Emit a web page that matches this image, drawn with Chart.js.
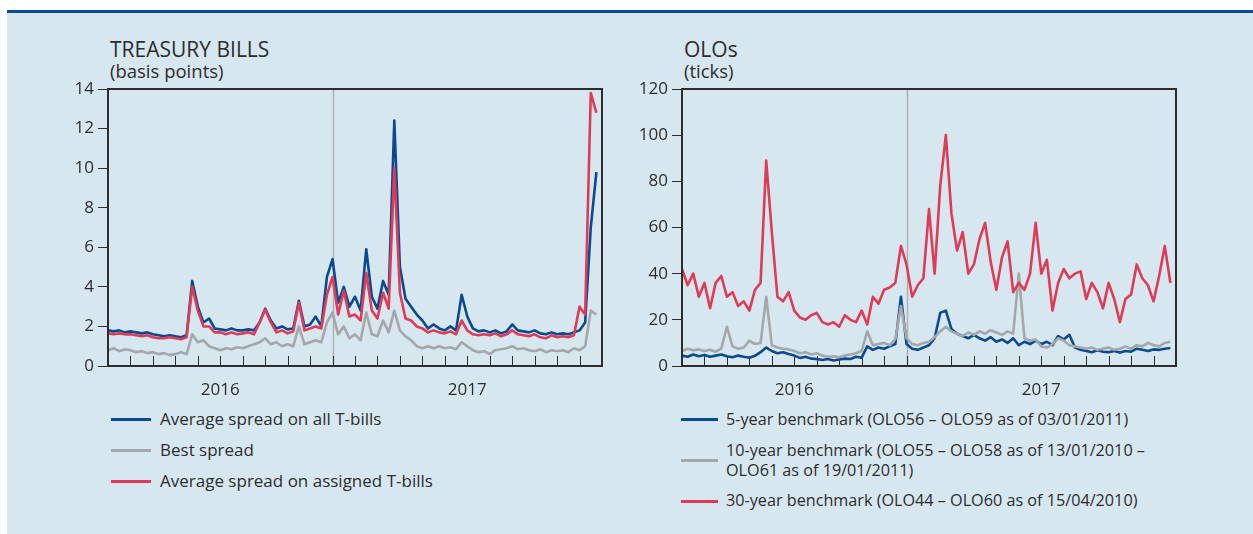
<!DOCTYPE html>
<html>
<head>
<meta charset="utf-8">
<script src="https://cdn.jsdelivr.net/npm/chart.js@4.4.1/dist/chart.umd.min.js"></script>
<style>
  html, body { margin: 0; padding: 0; background: #fff; }
  body { width: 1253px; height: 534px; position: relative; overflow: hidden; font-family: "Open Sans", sans-serif; color: #2d2d2d; }
  #panel { position: absolute; left: 7px; top: 13px; width: 1246px; height: 521px; background: #d7e7f0; }
  #rule { position: absolute; left: 7px; top: 10px; width: 1246px; height: 3px; background: #0c4b92; }
  .title { position: absolute; font-size: 21px; line-height: 1; white-space: nowrap; }
  .unit { position: absolute; font-size: 18.5px; line-height: 1; white-space: nowrap; }
  canvas { position: absolute; }
  .sw { position: absolute; height: 3px; }
  .lt { position: absolute; font-size: 17px; line-height: 20px; white-space: nowrap; }
  .lt.r { font-size: 16.2px; }
</style>
</head>
<body>
<div id="panel"></div>
<div id="rule"></div>

<div class="title" style="left:110px;top:39px">TREASURY BILLS</div>
<div class="unit" style="left:110px;top:62px">(basis points)</div>
<div class="title" style="left:684px;top:39px">OLOs</div>
<div class="unit" style="left:684px;top:62px">(ticks)</div>

<canvas id="tbills" width="560" height="322" style="left:50px;top:74px"></canvas>
<canvas id="olos" width="560" height="322" style="left:624px;top:74px"></canvas>

<div class="sw" style="left:111px;top:418px;width:40px;background:#0b4a8f"></div>
<div class="lt" style="left:160px;top:409px">Average spread on all T-bills</div>
<div class="sw" style="left:111px;top:449px;width:40px;background:#a5a7aa"></div>
<div class="lt" style="left:160px;top:440px">Best spread</div>
<div class="sw" style="left:111px;top:480px;width:40px;background:#e03b56"></div>
<div class="lt" style="left:160px;top:471px">Average spread on assigned T-bills</div>

<div class="sw" style="left:681px;top:418px;width:37px;background:#0b4a8f"></div>
<div class="lt r" style="left:726px;top:409px">5-year benchmark (OLO56 – OLO59 as of 03/01/2011)</div>
<div class="sw" style="left:681px;top:459px;width:37px;background:#a5a7aa"></div>
<div class="lt r" style="left:726px;top:440px">10-year benchmark (OLO55 – OLO58 as of 13/01/2010 –<br>OLO61 as of 19/01/2011)</div>
<div class="sw" style="left:681px;top:500px;width:37px;background:#e03b56"></div>
<div class="lt r" style="left:726px;top:490px">30-year benchmark (OLO44 – OLO60 as of 15/04/2010)</div>

<script>
// x positions: months elapsed since 1 March 2016, one sample per quarter month
const samples = Array.from({ length: 88 }, (_, i) => i / 4);
const monthTicks = [1, 2, 3, 4, 5, 6, 7, 8, 9, 10, 11, 12, 13, 14, 15, 16, 17, 18, 19, 20, 21];
const yearLabels = ['2016', '2017'];
const yearCentres = [5, 16];
const yearStart = 10;

// Treasury bills (basis points)
const tbAll = [
  1.8, 1.75, 1.8, 1.7, 1.75, 1.7, 1.65, 1.7, 1.6, 1.55,
  1.5, 1.55, 1.5, 1.45, 1.55, 4.3, 3.0, 2.2, 2.4, 1.9,
  1.85, 1.8, 1.9, 1.8, 1.8, 1.85, 1.8, 2.2, 2.9, 2.3,
  1.9, 2.0, 1.85, 1.9, 3.3, 2.0, 2.1, 2.5, 2.0, 4.5,
  5.4, 3.2, 4.0, 3.0, 3.5, 2.8, 5.9, 3.5, 2.9, 4.3,
  3.6, 12.4, 5.0, 3.4, 3.0, 2.6, 2.3, 1.9, 2.1, 1.9,
  1.8, 2.0, 1.8, 3.6, 2.5, 1.9, 1.75, 1.8, 1.7, 1.8,
  1.65, 1.75, 2.1, 1.8, 1.75, 1.7, 1.8, 1.65, 1.6, 1.7,
  1.6, 1.65, 1.6, 1.7, 1.8, 2.2, 7.0, 9.8
];
const tbBest = [
  0.8, 0.9, 0.75, 0.85, 0.8, 0.7, 0.75, 0.65, 0.7, 0.6,
  0.65, 0.55, 0.6, 0.7, 0.6, 1.6, 1.2, 1.3, 1.0, 0.9,
  0.8, 0.9, 0.85, 0.95, 0.9, 1.0, 1.1, 1.2, 1.4, 1.1,
  1.2, 1.0, 1.1, 1.0, 2.0, 1.1, 1.2, 1.3, 1.2, 2.2,
  2.7, 1.6, 2.0, 1.4, 1.6, 1.3, 2.7, 1.6, 1.5, 2.3,
  1.7, 2.8, 1.8, 1.5, 1.3, 1.0, 0.9, 1.0, 0.9, 1.0,
  0.9, 0.95, 0.85, 1.2, 1.0, 0.8, 0.7, 0.75, 0.6, 0.8,
  0.85, 0.9, 1.0, 0.85, 0.9, 0.8, 0.75, 0.85, 0.7, 0.8,
  0.75, 0.8, 0.7, 0.9, 0.8, 1.0, 2.8, 2.6
];
const tbAssigned = [
  1.65, 1.6, 1.65, 1.6, 1.6, 1.55, 1.5, 1.55, 1.45, 1.4,
  1.4, 1.45, 1.4, 1.35, 1.45, 4.0, 2.8, 2.0, 2.0, 1.7,
  1.7, 1.6, 1.7, 1.6, 1.65, 1.7, 1.6, 2.2, 2.85, 2.2,
  1.7, 1.8, 1.65, 1.75, 3.2, 1.8, 1.9, 2.0, 1.9, 3.6,
  4.5, 2.6, 3.8, 2.5, 2.6, 2.3, 4.7, 2.8, 2.4, 3.7,
  2.9, 10.0, 3.7, 2.4, 2.3, 2.0, 1.9, 1.7, 1.8, 1.7,
  1.65, 1.75, 1.6, 2.3, 1.8, 1.6, 1.55, 1.6, 1.55, 1.65,
  1.5, 1.6, 1.8, 1.6, 1.55, 1.5, 1.6, 1.45, 1.4, 1.55,
  1.45, 1.5, 1.45, 1.55, 3.0, 2.6, 13.8, 12.8
];

// OLOs (ticks)
const olo5 = [
  4.5, 4.0, 5.0, 4.2, 4.8, 4.0, 4.5, 5.0, 4.2, 3.8,
  4.5, 4.0, 3.6, 4.4, 6.0, 8.0, 6.5, 5.5, 6.0, 5.2,
  4.5, 3.5, 4.0, 3.2, 3.0, 2.6, 3.0, 2.4, 2.8, 3.2,
  3.0, 4.0, 3.6, 8.5, 7.0, 8.0, 7.5, 8.5, 9.5, 30,
  9.5, 7.5, 7.0, 8.0, 9.0, 12, 23, 24, 16, 14,
  13, 12, 13.5, 12, 11, 12.5, 10.5, 11.5, 10, 12,
  9, 10.5, 9.5, 11, 9.5, 10.5, 9, 13, 11.5, 13.5,
  8, 7, 6.5, 6, 6.8, 6.2, 6, 6.5, 5.8, 6.5,
  6.2, 7.5, 7, 6.5, 7.2, 7, 7.5, 7.8
];
const olo10 = [
  6.5, 7.5, 6.8, 7.2, 6.5, 7.0, 6.2, 7.5, 17, 8.5,
  7.5, 8.0, 11, 9.5, 10, 30, 9, 8, 7.5, 7.2,
  6.5, 5.5, 6, 5, 5.5, 4.5, 4, 4.2, 3.8, 4.5,
  5, 5.5, 6.5, 15, 9, 9.5, 10, 9, 11.5, 26,
  12, 9.5, 9, 10, 10.5, 12.5, 15, 17, 15, 14,
  13, 14.5, 13.5, 15, 14, 15.5, 14.5, 13.5, 15, 14,
  40, 12, 11, 11.5, 8.5, 8, 9.5, 12, 11, 9,
  8.5, 8, 7.5, 8, 7, 7.5, 8, 7, 7.5, 8.5,
  7.5, 9, 8.5, 10, 9, 8.5, 10, 10.5
];
const olo30 = [
  42, 35, 40, 30, 36, 25, 36, 39, 30, 32,
  26, 28, 24, 33, 36, 89, 58, 30, 28, 32,
  24, 21, 20, 22, 23, 19, 18, 19, 17, 22,
  20, 19, 24, 18, 30, 27, 33, 34, 36, 52,
  44, 30, 35, 38, 68, 40, 78, 100, 66, 50,
  58, 40, 44, 55, 62, 45, 33, 47, 54, 32,
  36, 33, 40, 62, 40, 46, 24, 36, 42, 38,
  40, 41, 29, 36, 32, 25, 36, 29, 19, 29,
  31, 44, 38, 35, 28, 39, 52, 36
];

const BLUE = '#0b4a8f', GREY = '#a5a7aa', RED = '#e03b56', INK = '#2d2d2d';

Chart.defaults.font.family = '"Open Sans", sans-serif';
Chart.defaults.color = INK;

// frame, year-start line and inward month ticks
const framePlugin = {
  id: 'frame',
  beforeDatasetsDraw(chart) {
    const { ctx, chartArea: a, scales: { x } } = chart;
    ctx.save();
    const vx = Math.round(x.getPixelForValue(yearStart)) + 0.5;
    ctx.strokeStyle = '#b0b0b0';
    ctx.lineWidth = 1.5;
    ctx.beginPath();
    ctx.moveTo(vx, a.top);
    ctx.lineTo(vx, a.bottom);
    ctx.stroke();
    ctx.strokeStyle = INK;
    ctx.lineWidth = 1;
    ctx.beginPath();
    monthTicks.forEach(m => {
      const px = Math.round(x.getPixelForValue(m)) + 0.5;
      ctx.moveTo(px, a.bottom);
      ctx.lineTo(px, a.bottom - 10);
    });
    ctx.stroke();
    ctx.restore();
  },
  afterDraw(chart) {
    const { ctx, chartArea: a } = chart;
    ctx.save();
    ctx.strokeStyle = INK;
    ctx.lineWidth = 2;
    ctx.strokeRect(a.left, a.top, a.right - a.left, a.bottom - a.top);
    ctx.restore();
  }
};

function line(label, values, color, order) {
  return {
    label,
    data: values.map((v, i) => ({ x: samples[i], y: v })),
    borderColor: color,
    backgroundColor: color,
    borderWidth: 2.6,
    pointRadius: 0,
    tension: 0,
    borderJoinStyle: 'round',
    order
  };
}

function makeChart(id, datasets, yMax, yStep) {
  return new Chart(document.getElementById(id), {
    type: 'line',
    data: { datasets },
    plugins: [framePlugin],
    options: {
      responsive: false,
      animation: false,
      devicePixelRatio: 1,
      layout: { padding: { left: 0, right: 8, top: 15, bottom: 0 } },
      plugins: { legend: { display: false }, tooltip: { enabled: false } },
      scales: {
        x: {
          type: 'linear',
          min: 0,
          max: 22,
          grid: { display: false },
          border: { display: false },
          afterBuildTicks: axis => { axis.ticks = yearCentres.map(v => ({ value: v })); },
          afterFit: axis => { axis.height = 30; },
          ticks: {
            autoSkip: false,
            maxRotation: 0,
            padding: 6,
            font: { size: 17 },
            color: INK,
            callback: v => yearLabels[yearCentres.indexOf(v)]
          }
        },
        y: {
          min: 0,
          max: yMax,
          grid: { drawOnChartArea: false, drawTicks: true, tickLength: 10, color: INK, lineWidth: 1 },
          border: { display: false },
          afterFit: axis => { axis.width = 58; },
          ticks: { stepSize: yStep, padding: 4, font: { size: 17 }, color: INK }
        }
      }
    }
  });
}

makeChart('tbills', [
  line('Average spread on all T-bills', tbAll, BLUE, 2),
  line('Best spread', tbBest, GREY, 1),
  line('Average spread on assigned T-bills', tbAssigned, RED, 0)
], 14, 2);

makeChart('olos', [
  line('5-year benchmark (OLO56 – OLO59 as of 03/01/2011)', olo5, BLUE, 2),
  line('10-year benchmark (OLO55 – OLO58 as of 13/01/2010 – OLO61 as of 19/01/2011)', olo10, GREY, 1),
  line('30-year benchmark (OLO44 – OLO60 as of 15/04/2010)', olo30, RED, 0)
], 120, 20);
</script>
</body>
</html>
